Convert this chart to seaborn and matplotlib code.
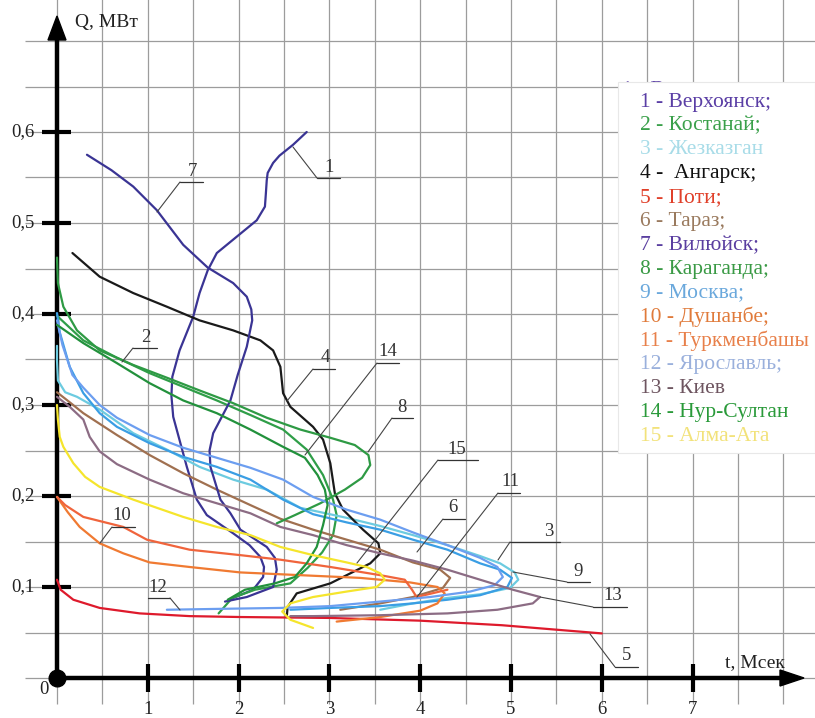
import matplotlib
matplotlib.use("Agg")
import matplotlib.pyplot as plt
import seaborn as sns
import numpy as np
from matplotlib.patches import Polygon, Rectangle

# Curves: t, Мсек (x) and Q, МВт (y)
x1 = [2.75, 2.60, 2.45, 2.38, 2.32, 2.31, 2.30, 2.29, 2.20, 1.98, 1.76, 1.66, 1.57, 1.50, 1.35, 1.27, 1.26, 1.28, 1.43, 1.54, 1.65, 1.94, 2.12, 2.24, 2.28, 2.27, 2.16, 1.94]
y1 = [0.600, 0.586, 0.574, 0.566, 0.555, 0.547, 0.532, 0.518, 0.503, 0.485, 0.467, 0.448, 0.423, 0.397, 0.360, 0.331, 0.310, 0.287, 0.232, 0.196, 0.179, 0.159, 0.146, 0.133, 0.122, 0.111, 0.097, 0.088]

x2 = [0.0, 0.29, 0.66, 1.02, 1.39, 1.76, 2.13, 2.49, 2.75, 2.93, 3.04, 3.08, 3.04, 2.92, 2.76, 2.57, 2.18, 1.93, 1.78]
y2 = [0.398, 0.371, 0.352, 0.335, 0.320, 0.305, 0.289, 0.273, 0.251, 0.223, 0.196, 0.179, 0.157, 0.138, 0.121, 0.104, 0.097, 0.088, 0.071]

x3 = [0.0, 0.0, 0.01, 0.09, 0.22, 0.47, 0.84, 1.21, 1.57, 1.94, 2.31, 2.68, 3.19, 3.56, 3.92, 4.30, 4.66, 4.88, 5.04, 5.08, 4.99, 4.66, 4.30, 3.92, 3.56]
y3 = [0.365, 0.349, 0.327, 0.314, 0.309, 0.295, 0.269, 0.251, 0.232, 0.218, 0.207, 0.187, 0.176, 0.167, 0.157, 0.146, 0.134, 0.126, 0.116, 0.108, 0.099, 0.092, 0.088, 0.082, 0.075]

x4 = [0.17, 0.47, 0.84, 1.21, 1.57, 1.94, 2.24, 2.38, 2.46, 2.49, 2.57, 2.82, 2.93, 3.01, 3.06, 3.15, 3.37, 3.54, 3.56, 3.45, 3.01, 2.64, 2.54, 2.53]
y4 = [0.467, 0.441, 0.423, 0.408, 0.393, 0.382, 0.371, 0.360, 0.342, 0.313, 0.298, 0.276, 0.262, 0.236, 0.203, 0.185, 0.163, 0.148, 0.137, 0.126, 0.104, 0.093, 0.078, 0.067]

x5 = [0.0, 0.04, 0.18, 0.47, 0.91, 1.46, 2.02, 3.0, 4.0, 4.9, 6.0]
y5 = [0.108, 0.097, 0.086, 0.077, 0.071, 0.068, 0.067, 0.066, 0.063, 0.058, 0.049]

x6 = [0.0, 0.14, 0.29, 0.66, 1.02, 1.39, 1.76, 2.13, 2.46, 2.82, 3.19, 3.56, 3.92, 4.22, 4.33, 4.25, 3.92, 3.56, 3.12]
y6 = [0.314, 0.303, 0.291, 0.267, 0.245, 0.225, 0.207, 0.190, 0.175, 0.163, 0.152, 0.141, 0.127, 0.119, 0.110, 0.099, 0.089, 0.082, 0.075]

x7 = [0.33, 0.60, 0.84, 1.10, 1.39, 1.66, 1.94, 2.09, 2.14, 2.15, 2.09, 1.99, 1.91, 1.72, 1.68, 1.69, 1.80, 1.91, 2.02, 2.31, 2.40, 2.42, 2.38, 2.09, 1.85]
y7 = [0.575, 0.558, 0.540, 0.514, 0.476, 0.451, 0.434, 0.419, 0.405, 0.393, 0.364, 0.333, 0.305, 0.269, 0.250, 0.232, 0.196, 0.181, 0.163, 0.144, 0.132, 0.119, 0.100, 0.089, 0.084]

x8 = [0.0, 0.01, 0.07, 0.22, 0.47, 0.84, 1.21, 1.57, 1.94, 2.31, 2.68, 3.01, 3.28, 3.43, 3.45, 3.36, 3.17, 2.90, 2.62, 2.42]
y8 = [0.462, 0.434, 0.408, 0.382, 0.360, 0.344, 0.330, 0.316, 0.302, 0.286, 0.273, 0.264, 0.256, 0.245, 0.234, 0.220, 0.207, 0.192, 0.179, 0.170]

x9 = [0.0, 0.03, 0.14, 0.29, 0.47, 0.66, 1.02, 1.39, 1.76, 2.13, 2.49, 2.82, 3.19, 3.56, 3.92, 4.30, 4.66, 4.88, 5.01, 4.96, 4.66, 4.30, 3.92, 3.56, 3.01, 2.57]
y9 = [0.401, 0.380, 0.342, 0.313, 0.291, 0.276, 0.258, 0.243, 0.232, 0.218, 0.196, 0.180, 0.171, 0.163, 0.152, 0.141, 0.126, 0.119, 0.110, 0.100, 0.091, 0.086, 0.082, 0.079, 0.077, 0.075]

x10 = [0.0, 0.12, 0.25, 0.47, 0.73, 1.02, 1.46, 2.02, 2.68, 3.34, 3.89, 4.19, 4.27, 4.19, 4.00, 3.56, 3.08]
y10 = [0.199, 0.182, 0.166, 0.148, 0.137, 0.127, 0.122, 0.116, 0.113, 0.110, 0.105, 0.100, 0.093, 0.082, 0.074, 0.067, 0.062]

x11 = [0.0, 0.09, 0.29, 0.73, 0.99, 1.46, 2.02, 2.46, 3.01, 3.56, 3.83, 3.91, 3.96, 4.13, 4.30]
y11 = [0.199, 0.190, 0.177, 0.166, 0.152, 0.141, 0.135, 0.130, 0.122, 0.113, 0.108, 0.097, 0.089, 0.093, 0.097]

x12 = [0.0, 0.06, 0.17, 0.29, 0.47, 0.66, 1.02, 1.39, 1.76, 2.13, 2.49, 2.82, 3.19, 3.56, 3.92, 4.30, 4.66, 4.85, 4.91, 4.82, 4.55, 4.11, 3.56, 3.01, 2.46, 1.80, 1.21]
y12 = [0.393, 0.366, 0.333, 0.319, 0.300, 0.286, 0.267, 0.253, 0.242, 0.231, 0.218, 0.199, 0.185, 0.174, 0.160, 0.146, 0.132, 0.122, 0.111, 0.102, 0.095, 0.089, 0.084, 0.079, 0.077, 0.076, 0.075]

x13 = [0.0, 0.14, 0.29, 0.36, 0.47, 0.66, 1.02, 1.39, 1.76, 2.13, 2.46, 2.82, 3.19, 3.56, 3.92, 4.30, 4.66, 5.02, 5.32, 5.24, 4.85, 4.30, 3.56, 2.82, 2.57]
y13 = [0.309, 0.298, 0.284, 0.265, 0.249, 0.235, 0.218, 0.203, 0.192, 0.181, 0.166, 0.157, 0.146, 0.137, 0.129, 0.119, 0.108, 0.097, 0.089, 0.082, 0.075, 0.071, 0.069, 0.068, 0.068]

x14 = [0.0, 0.29, 0.66, 1.02, 1.39, 1.76, 2.13, 2.49, 2.73, 2.87, 2.95, 2.98, 2.93, 2.86, 2.75, 2.62, 2.40, 2.07, 1.88]
y14 = [0.388, 0.368, 0.346, 0.324, 0.305, 0.291, 0.273, 0.254, 0.242, 0.223, 0.207, 0.190, 0.168, 0.144, 0.126, 0.111, 0.104, 0.097, 0.086]

x15 = [0.0, 0.01, 0.03, 0.07, 0.18, 0.31, 0.47, 0.84, 1.39, 1.76, 2.13, 2.46, 2.82, 3.19, 3.41, 3.56, 3.61, 3.52, 3.19, 2.82, 2.57, 2.48, 2.57, 2.82]
y15 = [0.300, 0.284, 0.265, 0.254, 0.236, 0.221, 0.210, 0.196, 0.177, 0.166, 0.157, 0.144, 0.135, 0.127, 0.122, 0.115, 0.108, 0.100, 0.095, 0.089, 0.082, 0.073, 0.064, 0.055]

names = ["1 - Верхоянск;", "2 - Костанай;", "3 - Жезказган", "4 -  Ангарск;", "5 - Поти;",
         "6 - Тараз;", "7 - Вилюйск;", "8 - Караганда;", "9 - Москва;", "10 - Душанбе;",
         "11 - Туркменбашы", "12 - Ярославль;", "13 - Киев", "14 - Нур-Султан", "15 - Алма-Ата"]
line_colors = ['#3a3494', '#2f9e48', '#6ccbe0', '#1a1a1a', '#de1a2c', '#a07050', '#3a3494', '#2e9a44',
               '#3a9ee4', '#f07a32', '#f0643c', '#6c9ef0', '#8c6c84', '#22913c', '#f5e52c']
text_colors = ['#5a3ea5', '#3aa04a', '#a8dce8', '#111111', '#e0402a', '#9a7a5e', '#5a3ea0', '#3a9a45',
               '#6aa8dc', '#e07a3a', '#e8804a', '#9ab0dc', '#6e5560', '#2a9a3a', '#f2e27a']
y_ticks = [0.1, 0.2, 0.3, 0.4, 0.5, 0.6]
y_tick_labels = ["0,1", "0,2", "0,3", "0,4", "0,5", "0,6"]
x_ticks = [1, 2, 3, 4, 5, 6, 7]

curves = [(x1, y1), (x2, y2), (x3, y3), (x4, y4), (x5, y5), (x6, y6), (x7, y7), (x8, y8),
          (x9, y9), (x10, y10), (x11, y11), (x12, y12), (x13, y13), (x14, y14), (x15, y15)]

sns.set_style("white")
plt.rcParams['font.family'] = ['Liberation Serif', 'DejaVu Serif']

W, H = 815, 718
fig = plt.figure(figsize=(W / 100, H / 100), dpi=100)
ax = fig.add_axes([0, 0, 1, 1])

# pixel -> data helper for layout only
X0, SX, Y0, SY = 57, 90.8, 678, 910.0
def P(px, py):
    return (px - X0) / SX, (Y0 - py) / SY

ax.set_xlim(P(0, 0)[0], P(W, 0)[0])
ax.set_ylim(P(0, H)[1], P(0, 0)[1])
ax.axis('off')

# grid
grid_c = '#9c9c9c'
ax.vlines(np.arange(0, 8.01, 0.5), P(0, 704)[1], 0.76, color=grid_c, lw=0.9, zorder=0)
ax.hlines(np.arange(0, 0.701, 0.05), P(25, 0)[0], 8.6, color=grid_c, lw=0.9, zorder=0)

# axes with arrows
ax.plot([0, 0], [0, P(0, 38)[1]], color='k', lw=3.2, solid_capstyle='butt', zorder=2)
ax.plot([0, P(782, 0)[0]], [0, 0], color='k', lw=3.2, solid_capstyle='butt', zorder=2)
ax.add_patch(Polygon([P(57, 16), P(48, 40), P(66, 40)], closed=True, color='k', zorder=2))
ax.add_patch(Polygon([P(804, 678), P(780, 670), P(780, 686)], closed=True, color='k', zorder=2))
ax.plot([0], [0], 'o', color='k', ms=12, zorder=6)

for v, lab in zip(y_ticks, y_tick_labels):
    ax.plot([P(42, 0)[0], P(71, 0)[0]], [v, v], color='k', lw=3, solid_capstyle='butt', zorder=2)
    ax.text(P(35, 0)[0], v, lab, ha='right', va='center', fontsize=13.5, color='#222')
for v in x_ticks:
    ax.plot([v, v], [P(0, 664)[1], P(0, 692)[1]], color='k', lw=3, solid_capstyle='butt', zorder=2)
    ax.text(v, P(0, 709)[1], str(v), ha='center', va='center', fontsize=13.5, color='#222')
ax.text(*P(44, 690), "0", ha='center', va='center', fontsize=13.5, color='#222')
ax.text(*P(75, 23), "Q, МВт", ha='left', va='center', fontsize=14, color='#222')
ax.text(*P(725, 663), "t, Мсек", ha='left', va='center', fontsize=14, color='#222')

# curves
for (xs, ys), c in zip(curves, line_colors):
    sns.lineplot(x=xs, y=ys, sort=False, estimator=None, color=c, lw=1.6,
                 legend=False, ax=ax, zorder=3)
for ln in ax.lines:
    ln.set_solid_joinstyle('round')

# number labels with leader lines: text pos, underline x0, x1, y, leader start, leader end
labels = [
    ("1", (329, 168), 317, 340, 178, (317, 178), (293, 147)),
    ("7", (192, 171), 180, 203, 182, (180, 182), (157, 212)),
    ("2", (146, 338), 133, 157, 348, (133, 348), (122, 362)),
    ("4", (325, 358), 313, 335, 369, (313, 369), (287, 401)),
    ("14", (388, 352), 377, 399, 363, (377, 363), (305, 455)),
    ("8", (402, 407), 392, 413, 418, (392, 418), (368, 452)),
    ("15", (457, 450), 438, 478, 460, (438, 460), (357, 563)),
    ("11", (510, 482), 498, 520, 493, (498, 493), (417, 597)),
    ("6", (453, 508), 443, 465, 519, (443, 519), (417, 552)),
    ("3", (549, 531), 510, 560, 542, (510, 542), (498, 560)),
    ("9", (578, 572), 567, 590, 582, (567, 582), (513, 572)),
    ("13", (613, 596), 593, 627, 607, (593, 607), (540, 597)),
    ("5", (627, 656), 615, 638, 667, (615, 667), (590, 634)),
    ("10", (122, 516), 112, 135, 527, (112, 527), (100, 543)),
    ("12", (158, 588), 148, 170, 598, (170, 598), (180, 610)),
]
for txt, tp, ux0, ux1, uy, ls, le in labels:
    ax.text(*P(*tp), txt, ha='center', va='center', fontsize=13.5, color='#333', zorder=5)
    ax.plot([P(ux0, uy)[0], P(ux1, uy)[0]], [P(ux0, uy)[1]] * 2, color='#333', lw=0.9, zorder=5)
    ax.plot([P(*ls)[0], P(*le)[0]], [P(*ls)[1], P(*le)[1]], color='#444', lw=0.8, zorder=5)

# legend box (a copy of the first entry peeks out above it, as in the source)
peek = ax.text(622 / W, 1 - 90 / H, names[0], transform=ax.transAxes, ha='left', va='center',
               fontsize=15.5, color=text_colors[0], zorder=6)
clip = Rectangle((600 / W, 1 - 82 / H), 200 / W, 12 / H, transform=ax.transAxes,
                 facecolor='none', edgecolor='none')
ax.add_patch(clip)
peek.set_clip_path(clip)
ax.add_patch(Rectangle((618 / W, 1 - 453 / H), (W - 618) / W, (453 - 82) / H, transform=ax.transAxes,
                       facecolor='white', edgecolor='#e8e8e8', lw=0.8, zorder=7))
for i, (nm, c) in enumerate(zip(names, text_colors)):
    ax.text(640 / W, 1 - (102 + 23.9 * i) / H, nm, transform=ax.transAxes, ha='left', va='center',
            fontsize=15.5, color=c, zorder=8)

fig.savefig("out.png", dpi=100)
